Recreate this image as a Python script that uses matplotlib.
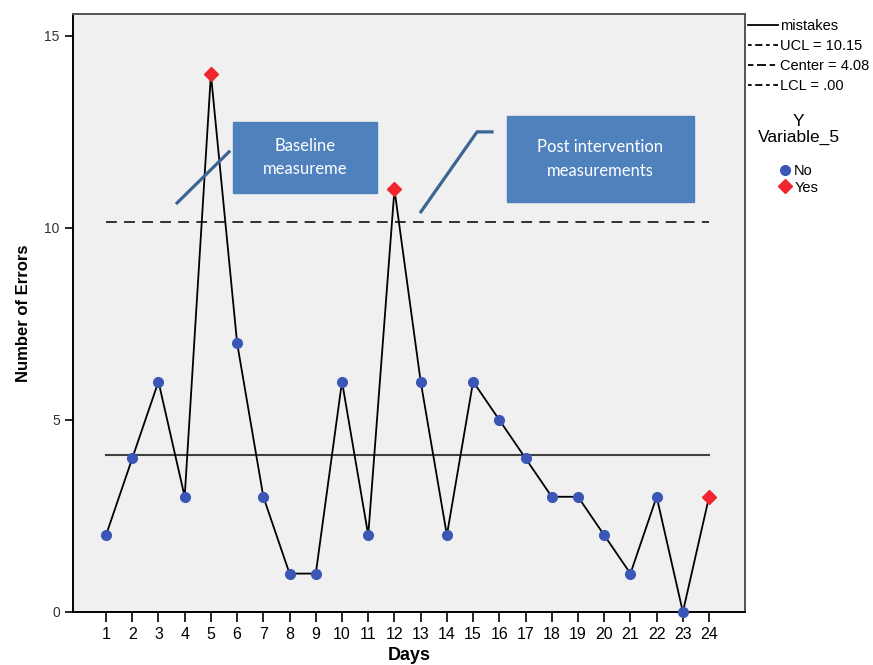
import matplotlib.pyplot as plt
from matplotlib.lines import Line2D
from matplotlib.patches import Rectangle

# data
days = list(range(1, 25))
mistakes = [2, 4, 6, 3, 14, 7, 3, 1, 1, 6, 2, 11, 6, 2, 6, 5, 4, 3, 3, 2, 1, 3, 0, 3]
flagged = [False, False, False, False, True, False, False, False, False, False, False, True,
           False, False, False, False, False, False, False, False, False, False, False, True]
ucl = 10.15
center = 4.08
lcl = 0.0

plt.rcParams['font.family'] = ['Liberation Sans', 'DejaVu Sans']

fig = plt.figure(figsize=(8.73, 6.65), dpi=100)
ax = fig.add_axes([0.0836, 0.0797, 0.7698, 0.8993])
ax.set_facecolor('#f0f0f0')

# control limits
ax.plot([days[0], days[-1]], [center, center], color='#404040', lw=1.5, zorder=2)
ax.plot([days[0], days[-1]], [ucl, ucl], color='#222222', lw=1.3, dashes=(6, 4), zorder=2)
ax.plot([days[0], days[-1]], [lcl, lcl], color='#777777', lw=1.3, dashes=(6, 4), zorder=2)

# series
ax.plot(days, mistakes, color='black', lw=1.3, zorder=3)
no_x = [d for d, f in zip(days, flagged) if not f]
no_y = [m for m, f in zip(mistakes, flagged) if not f]
yes_x = [d for d, f in zip(days, flagged) if f]
yes_y = [m for m, f in zip(mistakes, flagged) if f]
ax.plot(no_x, no_y, 'o', color='#3a57b5', ms=7, zorder=4, clip_on=False)
ax.plot(yes_x, yes_y, 'D', color='#f0262e', ms=7.5, zorder=4, clip_on=False)

ax.set_xlim(-0.26, 25.37)
ax.set_ylim(0, 15.57)
ax.set_xticks(days)
ax.set_yticks([0, 5, 10, 15])
ax.tick_params(axis='y', direction='out', length=6, width=1.2, labelsize=10, labelcolor='#333333')
ax.tick_params(axis='x', direction='out', length=7, width=1.2, labelsize=11.5)
for s in ['left', 'bottom']:
    ax.spines[s].set_color('black')
    ax.spines[s].set_linewidth(1.4)
for s in ['top', 'right']:
    ax.spines[s].set_color('#555555')
    ax.spines[s].set_linewidth(1.4)

ax.set_xlabel('Days', fontsize=13, fontweight='bold', labelpad=4)
ax.set_ylabel('Number of Errors', fontsize=12, fontweight='bold', labelpad=10)

# callout boxes
box_color = '#4f81bd'
ax.add_patch(Rectangle((5.84, 10.91), 11.34 - 5.84, 12.76 - 10.91, color=box_color, zorder=5))
ax.text((5.84 + 11.34) / 2, (10.91 + 12.76) / 2, 'Baseline\nmeasureme', color='white',
        ha='center', va='center', fontsize=12, family='Lato', linespacing=1.6, zorder=6)
ax.add_patch(Rectangle((16.29, 10.68), 23.43 - 16.29, 12.92 - 10.68, color=box_color, zorder=5))
ax.text((16.29 + 23.43) / 2, (10.68 + 12.92) / 2, 'Post intervention\nmeasurements', color='white',
        ha='center', va='center', fontsize=12, family='Lato', linespacing=1.6, zorder=6)
ax.plot([3.71, 5.69], [10.65, 11.98], color='#3c6394', lw=2.3, zorder=5)
ax.plot([13.01, 15.15, 15.72], [10.42, 12.5, 12.5], color='#3c6394', lw=2.3, zorder=5)

# legends on the right
h1 = [Line2D([], [], color='black', lw=1.3),
      Line2D([], [], color='black', lw=1.3, dashes=(2, 2, 4, 2)),
      Line2D([], [], color='black', lw=1.3, dashes=(3, 2, 5, 2)),
      Line2D([], [], color='black', lw=1.3, dashes=(2, 2, 4, 2))]
l1 = fig.legend(h1, ['mistakes', 'UCL = 10.15', 'Center = 4.08', 'LCL = .00'],
                loc='upper left', bbox_to_anchor=(0.857, 0.972), frameon=False,
                fontsize=10.5, handlelength=2.05, handletextpad=0.15, labelspacing=0.42,
                borderaxespad=0, borderpad=0)
h2 = [Line2D([], [], ls='', marker='o', color='#3a57b5', ms=7),
      Line2D([], [], ls='', marker='D', color='#f0262e', ms=7)]
l2 = fig.legend(h2, ['No', 'Yes'], title='Y\nVariable_5\n', loc='upper center',
                bbox_to_anchor=(0.915, 0.828), frameon=False, fontsize=10.5,
                title_fontsize=12.5, handlelength=0.8, handletextpad=0.2,
                labelspacing=0.2, borderaxespad=0, borderpad=0, alignment='center')
l2.get_title().set_multialignment('center')
l2.get_title().set_linespacing(1.05)

fig.savefig('out.png', dpi=100)
